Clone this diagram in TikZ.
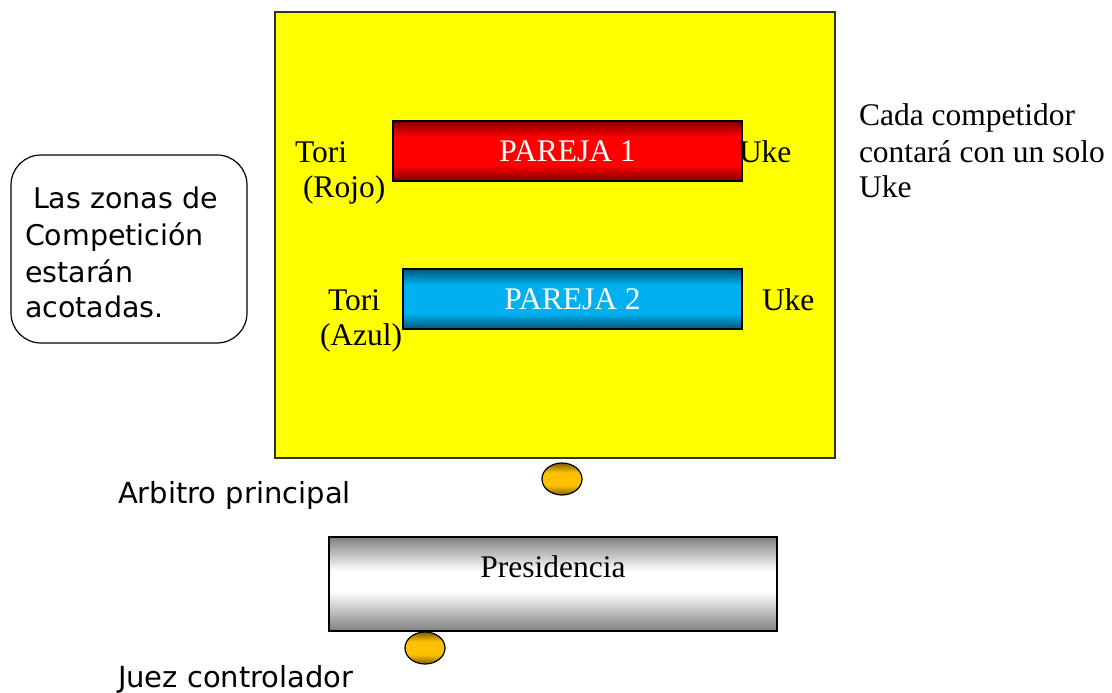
\documentclass[tikz,border=0pt]{standalone}
\usepackage{fontspec}
\setmainfont{Liberation Serif}
\setsansfont{DejaVu Sans}
\usetikzlibrary{arrows}

% Colors
\definecolor{zoneyellow}{HTML}{FFFF00}
\definecolor{pairred}{HTML}{FF0000}
\definecolor{pairblue}{HTML}{00B0F0}
\definecolor{gold}{HTML}{FFC000}
\definecolor{deskgray}{HTML}{808080}

% Shadings (path spans 25bp--75bp)
\pgfdeclareverticalshading{redbar}{100bp}{color(0bp)=(pairred!50!black); color(25bp)=(pairred!50!black);
    color(38bp)=(pairred); color(62bp)=(pairred); color(75bp)=(pairred!50!black); color(100bp)=(pairred!50!black)}
\pgfdeclareverticalshading{bluebar}{100bp}{color(0bp)=(pairblue!50!black); color(25bp)=(pairblue!50!black);
    color(38bp)=(pairblue); color(62bp)=(pairblue); color(75bp)=(pairblue!50!black); color(100bp)=(pairblue!50!black)}
\pgfdeclareverticalshading{goldbar}{100bp}{color(0bp)=(gold!50!black); color(25bp)=(gold!50!black);
    color(40bp)=(gold); color(60bp)=(gold); color(75bp)=(gold!50!black); color(100bp)=(gold!50!black)}
\pgfdeclareverticalshading{deskbar}{100bp}{color(0bp)=(deskgray); color(25bp)=(deskgray);
    color(46bp)=(white); color(57bp)=(white); color(75bp)=(deskgray); color(100bp)=(deskgray)}

\begin{document}
\begin{tikzpicture}[x=1pt, y=-1pt,
    inner sep=0pt, outer sep=0pt,%
    serif/.style={font=\fontsize{31.5}{37}\selectfont, anchor=base west},
    sans/.style={font=\sffamily\fontsize{#1}{36}\selectfont, anchor=base west},
    sans/.default=28.5,
    pair/.style={draw=black, line width=1.2pt, shading=#1, text=white,
        minimum height=60pt, font=\fontsize{31.5}{37}\selectfont},
    judge/.style={draw=black, line width=1.2pt, shading=goldbar},
]
    \useasboundingbox (0,0) rectangle (1112,693);

    % Competition area
    \draw[fill=zoneyellow, draw=black!80, line width=1.5pt] (275,12) rectangle (835,458);

    \node[pair=redbar, minimum width=349pt] (pareja1) at (567.5,151) {PAREJA 1};
    \node[pair=bluebar, minimum width=339pt] (pareja2) at (572.5,299) {PAREJA 2};

    \node[serif] (tori1) at (295,162) {Tori};
    \node[serif] (rojo)  at (303,197) {(Rojo)};
    \node[serif] (uke1)  at (739,162) {Uke};
    \node[serif] (tori2) at (328,310) {Tori};
    \node[serif] (azul)  at (320,345) {(Azul)};
    \node[serif] (uke2)  at (762,310) {Uke};

    % Note on the right
    \foreach \txt/\yy [count=\i] in {Cada competidor/125, contará con un solo/162, Uke/197}
        \node[serif] (note\i) at (859,\yy) {\txt};

    % Note on the left
    \draw[rounded corners=30pt, line width=1.2pt] (11,155) rectangle (247,343);
    \foreach \txt/\yy [count=\i] in {{\hspace*{8pt}Las zonas de}/208, Competición/245, estarán/282, acotadas./317}
        \node[sans] (zona\i) at (25,\yy) {\txt};

    % Referees
    \draw[judge] (562,479) ellipse (20pt and 16pt);
    \node[sans=29] (arbitro) at (118,503) {Arbitro principal};

    \node[draw=black, line width=1.2pt, shading=deskbar,
        minimum width=448pt, minimum height=94pt] (desk) at (553,584) {};
    \node[serif, anchor=base] (presidencia) at (553,577) {Presidencia};

    \draw[judge] (425,648) ellipse (20pt and 16pt);
    \node[sans=29] (juez) at (118,687) {Juez controlador};
\end{tikzpicture}
\end{document}
